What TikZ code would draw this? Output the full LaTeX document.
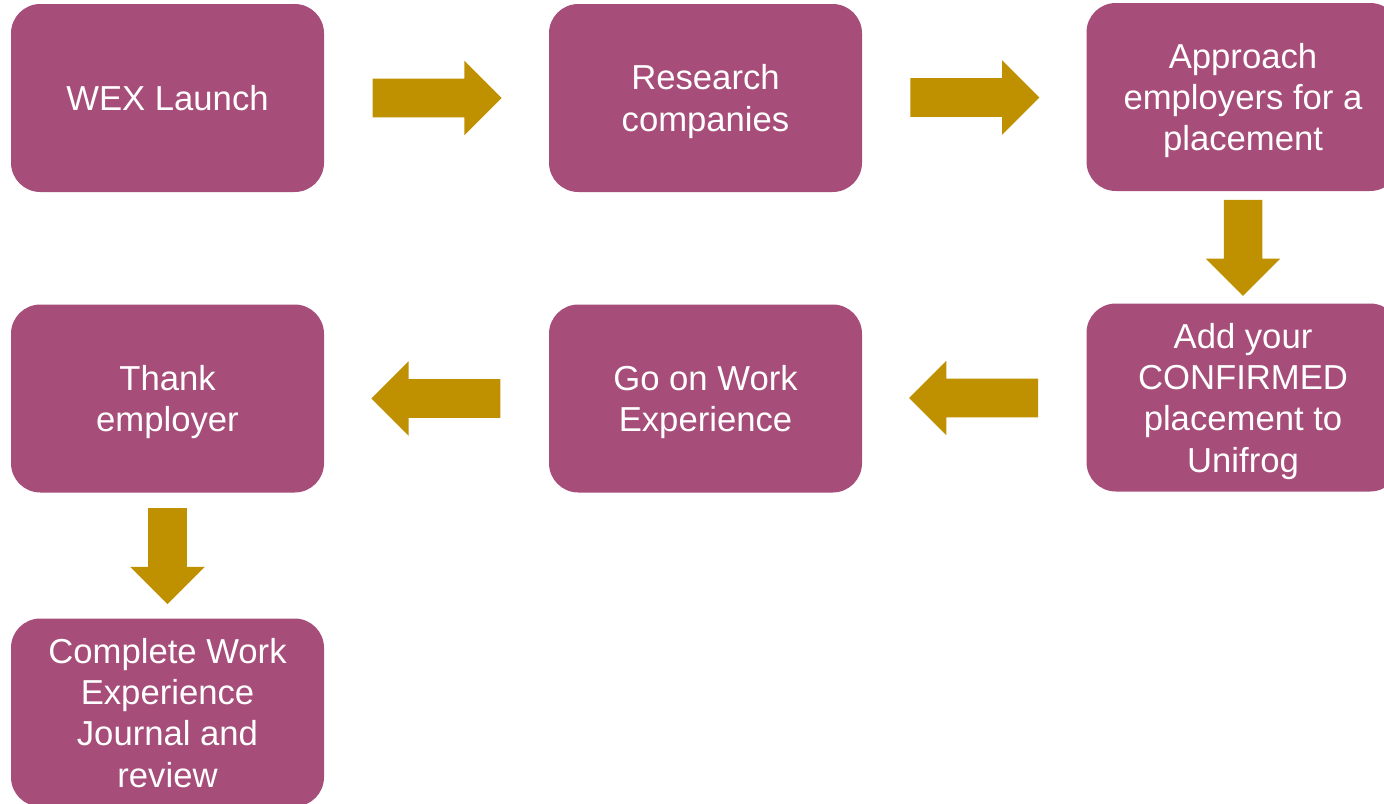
\documentclass[tikz,border=0pt]{standalone}
\usepackage{fontspec}
\setmainfont{Liberation Sans}
\usetikzlibrary{shapes.arrows}
\definecolor{wexplum}{HTML}{A64D79}
\definecolor{wexgold}{HTML}{BF9000}
\tikzset{mybox/.style={fill=wexplum,rounded corners=22pt,minimum width=234.75pt,minimum height=141pt,inner sep=0pt,text depth=0pt,align=center,text=white,font=\fontsize{26}{31}\selectfont},
mybigarrow/.style={single arrow,fill=wexgold,inner sep=14.25pt,single arrow head extend=13.5pt,single arrow tip angle=90},
myright/.style={mybigarrow,minimum height=96.75pt,xshift=-6.75pt},
myleft/.style={mybigarrow,minimum height=96.75pt,shape border rotate=180,xshift=6.75pt},
mydown/.style={mybigarrow,minimum height=72pt,shape border rotate=270,yshift=6.75pt}}

\begin{document}
\begin{tikzpicture}[x=0.75pt,y=-0.75pt]
\useasboundingbox (0,0) rectangle (1384,803);
\node[mybox] (wex) at (167.5,98) {WEX Launch};
\node[mybox] (research) at (705.5,98) {Research\\companies};
\node[mybox] (approach) at (1243,97) {Approach\\employers for a\\placement};
\node[mybox] (confirmed) at (1243,397.5) {Add your\\CONFIRMED\\placement to\\Unifrog};
\node[mybox] (workexp) at (705.5,398.5) {Go on Work\\Experience};
\node[mybox] (thank) at (167.5,398.5) {Thank\\employer};
\node[mybox] (journal) at (167.5,712.5) {Complete Work\\Experience\\Journal and\\review};
% block arrows between the steps
\path (wex.east) -- (research.west) node[midway,myright]{};
\path (research.east) -- (approach.west) node[midway,myright]{};
\path (approach.south) -- (confirmed.north) node[midway,mydown]{};
\path (confirmed.west) -- (workexp.east) node[midway,myleft]{};
\path (workexp.west) -- (thank.east) node[midway,myleft]{};
\path (thank.south) -- (journal.north) node[midway,mydown]{};
\end{tikzpicture}
\end{document}
